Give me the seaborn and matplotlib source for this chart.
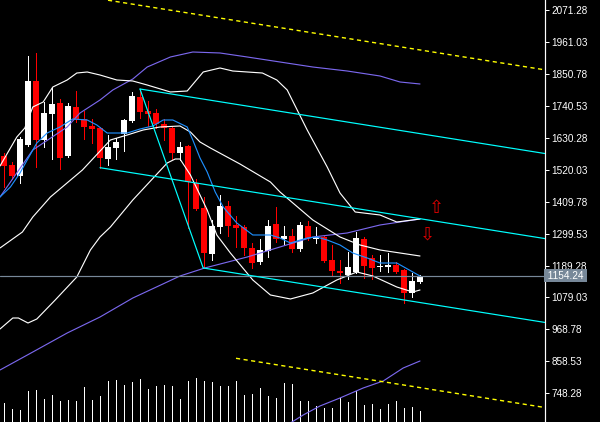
import numpy as np
import pandas as pd
import matplotlib
matplotlib.use("Agg")
import matplotlib.pyplot as plt
import matplotlib.transforms as mtransforms
import seaborn as sns

# ---------------- data ----------------
opens = [1567.3, 1536.3, 1498.3, 1605.3, 1826.2, 1622.6, 1712.3, 1750.3, 1567.3, 1736.5,
         1695.1, 1670.9, 1664.0, 1557.0, 1595.0, 1643.3, 1688.2, 1771.0, 1722.7, 1715.8,
         1679.5, 1664.0, 1577.7, 1601.9, 1474.2, 1387.9, 1229.1, 1322.3, 1394.8, 1329.2,
         1322.3, 1250.8, 1201.5, 1239.5, 1332.6, 1280.9, 1291.2, 1246.3, 1325.7, 1280.9,
         1287.8, 1208.4, 1172.1, 1156.6, 1167.0, 1280.9, 1215.3, 1184.2, 1184.2, 1191.1,
         1173.9, 1094.5, 1132.5]
highs = [1577.7, 1546.6, 1632.9, 1912.5, 1922.9, 1753.7, 1802.1, 1764.1, 1750.3, 1791.7,
         1722.7, 1695.1, 1667.5, 1639.8, 1629.5, 1695.1, 1788.3, 1795.2, 1757.2, 1729.6,
         1695.1, 1667.5, 1615.7, 1605.3, 1488.0, 1425.8, 1346.5, 1432.7, 1412.0, 1360.3,
         1329.2, 1267.1, 1280.9, 1346.5, 1391.3, 1325.7, 1315.4, 1339.5, 1343.0, 1322.3,
         1291.2, 1260.2, 1208.4, 1236.0, 1305.0, 1287.8, 1225.6, 1225.6, 1232.5, 1201.5,
         1177.3, 1163.5, 1155.0]
lows = [1460.3, 1488.0, 1474.2, 1601.9, 1529.4, 1598.4, 1557.0, 1522.5, 1563.9, 1684.7,
        1626.0, 1612.2, 1525.9, 1536.3, 1557.0, 1584.6, 1684.7, 1698.5, 1670.9, 1664.0,
        1622.6, 1557.0, 1553.5, 1318.8, 1381.0, 1184.2, 1208.4, 1301.6, 1291.2, 1253.3,
        1225.6, 1180.8, 1194.6, 1218.7, 1270.5, 1263.6, 1236.0, 1239.5, 1277.4, 1267.1,
        1201.5, 1156.6, 1129.0, 1142.8, 1163.5, 1146.3, 1142.8, 1170.4, 1167.0, 1163.5,
        1060.0, 1080.7, 1130.0]
closes = [1532.8, 1498.3, 1626.0, 1826.2, 1622.6, 1715.8, 1746.8, 1560.5, 1739.9, 1691.6,
          1667.5, 1660.5, 1560.5, 1598.4, 1615.7, 1691.6, 1774.5, 1719.2, 1714.0, 1677.8,
          1665.7, 1577.7, 1598.4, 1477.6, 1384.4, 1232.5, 1325.7, 1394.8, 1325.7, 1318.8,
          1250.8, 1198.0, 1242.9, 1325.7, 1280.9, 1291.2, 1246.3, 1329.2, 1284.3, 1287.8,
          1204.9, 1170.4, 1165.2, 1184.2, 1284.3, 1187.7, 1180.8, 1187.7, 1191.1, 1167.0,
          1094.5, 1135.9, 1154.24]
volumes = [1930, 1330, 1200, 3130, 3230, 2330, 2700, 2130, 2230, 2130,
           3530, 2230, 2600, 4130, 4230, 3730, 4000, 4330, 3330, 3600,
           3730, 3600, 2330, 4130, 4400, 4130, 4000, 3600, 3600, 4130,
           2700, 2830, 3430, 2600, 2430, 3930, 3830, 2130, 2100, 1600,
           1430, 1430, 2370, 2030, 3100, 1700, 1800, 1300, 1800, 2100,
           1430, 1530, 1130]

# Bollinger (white) upper / middle / lower, read at bar positions
bb_up_bar = [-0.5, 1.6, 2.6, 3.6, 4.9, 6.1, 7.9, 9.1, 10.4, 12.0, 14.1, 16.1, 17.9, 20.8,
             22.9, 24.9, 27.0, 28.6, 32.3, 34.1, 35.4, 37.9, 40.4, 42.0, 43.9, 47.0, 49.1, 52.0]
bb_up_val = [1532.8, 1632.9, 1664.0, 1736.5, 1753.7, 1805.5, 1829.7, 1853.8, 1857.3, 1846.9,
             1829.7, 1826.2, 1812.4, 1788.3, 1791.7, 1857.3, 1871.1, 1860.7, 1853.8, 1829.7,
             1795.2, 1657.1, 1529.4, 1439.6, 1374.1, 1363.7, 1339.5, 1349.9]
bb_mid_bar = [-0.5, 2.3, 3.6, 5.8, 9.8, 13.3, 15.4, 17.4, 19.5, 22.0, 23.3, 24.5, 25.8,
              29.5, 33.3, 34.5, 38.6, 42.0, 44.5, 47.0, 52.0]
bb_mid_val = [1249.8, 1305.0, 1356.8, 1425.8, 1519.0, 1622.6, 1639.8, 1657.1, 1667.5, 1670.9,
              1650.2, 1615.7, 1595.0, 1539.7, 1477.6, 1443.1, 1346.5, 1287.8, 1260.2, 1242.9,
              1222.2]
bb_lo_bar = [-0.5, 1.1, 1.8, 3.0, 4.1, 6.4, 9.1, 10.8, 12.0, 13.3, 16.1, 20.4, 21.4, 22.0,
             23.3, 25.4, 26.6, 28.3, 31.1, 33.3, 35.8, 38.6, 41.6, 44.1, 46.1, 49.1, 51.1, 52.0]
bb_lo_val = [970.2, 1008.2, 1008.2, 990.9, 1004.7, 1070.3, 1149.7, 1242.9, 1287.8, 1322.3,
             1415.5, 1543.2, 1557.0, 1557.0, 1501.8, 1381.0, 1294.7, 1232.5, 1139.4, 1087.6,
             1073.8, 1094.5, 1139.4, 1167.0, 1153.2, 1115.2, 1097.9, 1104.8]

# fast moving average (blue)
ma_bar = [-0.5, 0.8, 2.0, 2.9, 4.1, 5.4, 7.0, 8.6, 10.4, 11.6, 12.9, 15.4, 17.0, 18.6, 19.9,
          21.1, 22.9, 23.6, 24.5, 25.4, 26.4, 27.4, 29.1, 31.1, 33.3, 34.5, 35.8, 37.9, 39.1,
          40.4, 42.0, 43.6, 45.4, 47.0, 49.1, 51.1, 52.0]
ma_val = [1425.8, 1460.3, 1508.7, 1553.5, 1612.2, 1646.7, 1667.5, 1695.1, 1691.6, 1674.4,
          1646.7, 1646.7, 1660.5, 1670.9, 1691.6, 1691.6, 1667.5, 1622.6, 1560.5, 1512.1,
          1443.1, 1391.3, 1336.1, 1294.7, 1294.7, 1284.3, 1267.1, 1284.3, 1287.8, 1277.4,
          1260.2, 1232.5, 1215.3, 1198.0, 1198.0, 1167.0, 1153.2]

# long Bollinger (purple) upper / middle / lower
lb_up_bar = [-0.5, 3.6, 7.9, 9.5, 12.0, 13.6, 16.1, 17.9, 20.8, 23.6, 27.0, 30.4, 34.5,
             38.6, 42.9, 47.0, 49.5, 52.0]
lb_up_val = [1425.8, 1588.1, 1667.5, 1715.8, 1760.6, 1795.2, 1833.1, 1874.5, 1909.1, 1926.3,
             1922.9, 1909.1, 1891.8, 1874.5, 1860.7, 1843.5, 1822.8, 1815.9]
lb_mid_bar = [-0.5, 3.6, 7.9, 12.0, 16.1, 20.4, 22.0, 25.1, 30.4, 34.5, 38.6, 42.9, 47.0, 52.0]
lb_mid_val = [828.7, 890.8, 956.4, 1011.6, 1077.2, 1132.5, 1153.2, 1180.8, 1218.7, 1253.3,
              1287.8, 1301.6, 1329.2, 1349.9]
lb_lo_bar = [34.5, 36.0, 37.4, 39.5, 42.0, 44.9, 47.4, 49.9, 52.0]
lb_lo_val = [628.5, 649.2, 673.4, 704.5, 732.1, 766.6, 790.7, 835.6, 859.8]

# trend channel (cyan) and dashed channel (yellow): start bar, start price, common slope
chan_bar = [17.0, 12.0, 24.9]
chan_price = [1798.6, 1527.0, 1180.8]
yel_bar = [13.0, 29.0]
yel_price = [2105.0, 869.1]
slope_per_bar = -4.4

last_price = 1154.24
arrow_up = (54.1, 1388.0)
arrow_dn = (52.9, 1298.0)

tick_values = [748.28, 858.53, 968.78, 1079.03, 1189.28, 1299.53, 1409.78,
               1520.03, 1630.28, 1740.53, 1850.78, 1961.03, 2071.28]

# ---------------- style ----------------
sns.set_theme(style="dark")
plt.rcParams.update({
    "figure.facecolor": "black",
    "axes.facecolor": "black",
    "savefig.facecolor": "black",
    "axes.edgecolor": "white",
    "axes.grid": False,
})
plt.rcParams["font.family"] = ["Liberation Sans", "DejaVu Sans"]

PX = 0.72  # one pixel in points at 100 dpi

fig = plt.figure(figsize=(6.0, 4.22), dpi=100)
ax = fig.add_axes([0, 0, 545 / 600, 1])
ax.set_facecolor("black")

XMIN, XMAX = -0.5, -0.5 + 545 / 8
YMIN, YMAX = 649.2, 2105.8

df = pd.DataFrame({"o": opens, "h": highs, "l": lows, "c": closes, "v": volumes})
df["i"] = np.arange(len(df))
df["up"] = df["c"] >= df["o"]

# volume (own scale) at the bottom
axv = ax.twinx()
axv.set_ylim(0, 42200)
axv.set_xlim(XMIN, XMAX)
axv.vlines(df["i"], 0, df["v"], color="white", lw=PX, antialiased=False)
axv.axis("off")
axv.set_zorder(0)
ax.set_zorder(1)
ax.patch.set_visible(False)
fig.patch.set_facecolor("black")

# candles
min_body = 1.0 * (YMAX - YMIN) / 422
for _, r in df.iterrows():
    col = "white" if r["up"] else "#FF0000"
    ax.vlines(r["i"], r["l"], r["h"], color=col, lw=PX, zorder=2, antialiased=False)
    lo = min(r["o"], r["c"])
    hgt = max(abs(r["c"] - r["o"]), min_body)
    ax.bar(r["i"], hgt, bottom=lo, width=0.7, color=col, linewidth=0, zorder=2)

# indicator lines
lines = [
    (lb_up_bar, lb_up_val, "#7B68EE"),
    (lb_mid_bar, lb_mid_val, "#7B68EE"),
    (lb_lo_bar, lb_lo_val, "#7B68EE"),
    (bb_up_bar, bb_up_val, "white"),
    (bb_mid_bar, bb_mid_val, "white"),
    (bb_lo_bar, bb_lo_val, "white"),
    (ma_bar, ma_val, "#1E90FF"),
]
for xs, ys, col in lines:
    sns.lineplot(x=xs, y=ys, ax=ax, color=col, linewidth=PX * 1.15, estimator=None,
                 sort=False, legend=False, zorder=3)

# cyan channel
for b0, p0 in zip(chan_bar, chan_price):
    xs = [b0, XMAX]
    ys = [p0, p0 + slope_per_bar * (XMAX - b0)]
    sns.lineplot(x=xs, y=ys, ax=ax, color="#00FFFF", linewidth=PX * 1.2, estimator=None,
                 sort=False, legend=False, zorder=4)
sns.lineplot(x=[chan_bar[0], chan_bar[2]], y=[chan_price[0], chan_price[2]], ax=ax,
             color="#00FFFF", linewidth=PX * 1.2, estimator=None, sort=False, legend=False, zorder=4)

# yellow dashed lines
for b0, p0 in zip(yel_bar, yel_price):
    xs = [b0, XMAX]
    ys = [p0, p0 + slope_per_bar * (XMAX - b0)]
    ax.plot(xs, ys, color="#FFFF00", lw=1.0, linestyle=(0, (3, 2.5)), zorder=4)

# current price line
ax.axhline(last_price, color="#778899", lw=PX * 1.2, zorder=3)

# arrows
ax.text(arrow_up[0], arrow_up[1], "\u21E7", color="#E00000", fontsize=13, ha="center",
        va="center", family="DejaVu Sans", zorder=5)
ax.text(arrow_dn[0], arrow_dn[1], "\u21E9", color="#E00000", fontsize=13, ha="center",
        va="center", family="DejaVu Sans", zorder=5)

ax.set_xlim(XMIN, XMAX)
ax.set_ylim(YMIN, YMAX)
ax.set_xticks([])
ax.set_xlabel("")
ax.set_ylabel("")
ax.yaxis.tick_right()
ax.set_yticks(tick_values)
ax.set_yticklabels([f"{t:.2f}" for t in tick_values])
ax.tick_params(axis="y", colors="white", direction="out", length=3, width=PX,
               labelsize=7.2, pad=1.5, right=True, left=False)
for s in ["left", "top", "bottom"]:
    ax.spines[s].set_visible(False)
ax.spines["right"].set_color("white")
ax.spines["right"].set_linewidth(PX * 1.2)

trans = mtransforms.blended_transform_factory(ax.transAxes, ax.transData)
ax.text(1.0, last_price, " " + f"{last_price:.2f}" + " ", transform=trans, color="white",
        fontsize=7.2, ha="left", va="center",
        bbox=dict(boxstyle="square,pad=0.12", fc="#778899", ec="none"), zorder=6)

fig.savefig("out.png", dpi=100, facecolor="black")
